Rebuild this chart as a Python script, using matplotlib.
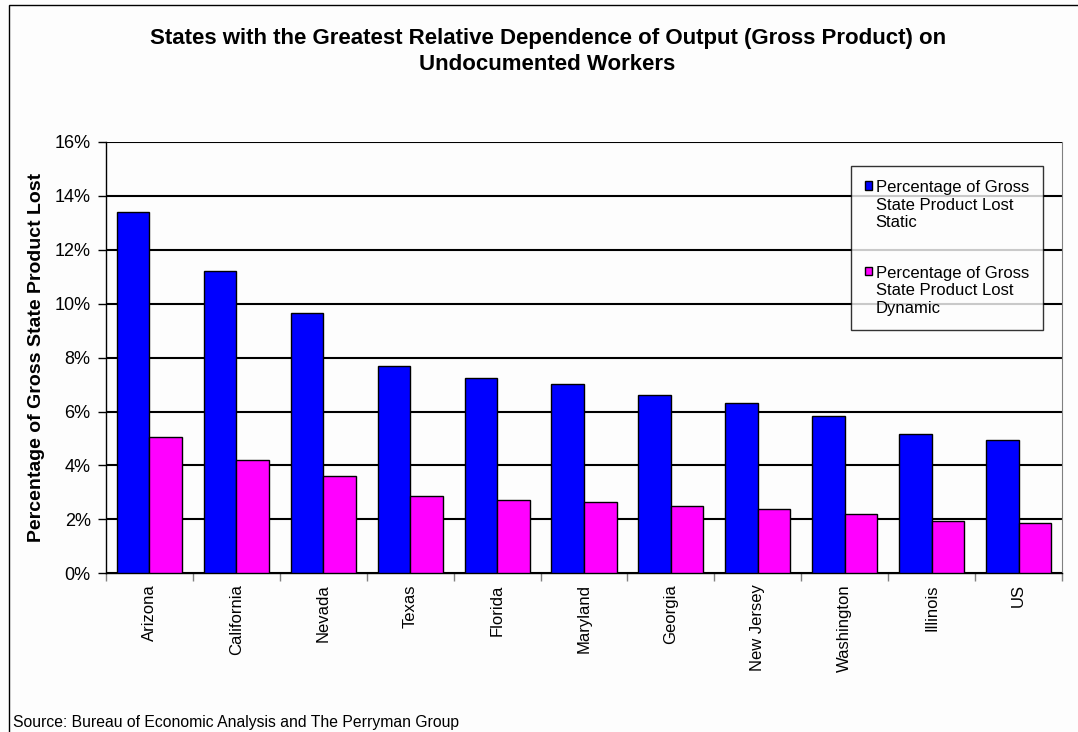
import numpy as np
import matplotlib.pyplot as plt
from matplotlib.patches import Rectangle
from matplotlib.legend_handler import HandlerPatch
from matplotlib.ticker import FuncFormatter, FixedLocator

plt.rcParams['font.family'] = ['Liberation Sans', 'DejaVu Sans']

states = ["Arizona", "California", "Nevada", "Texas", "Florida", "Maryland",
          "Georgia", "New Jersey", "Washington", "Illinois", "US"]
static_pct = [13.40, 11.22, 9.65, 7.68, 7.26, 7.03, 6.63, 6.31, 5.84, 5.15, 4.95]
dynamic_pct = [5.04, 4.22, 3.62, 2.88, 2.73, 2.64, 2.51, 2.37, 2.20, 1.93, 1.86]
label_static = "Percentage of Gross\nState Product Lost\nStatic"
label_dynamic = "Percentage of Gross\nState Product Lost\nDynamic"


class TopSquare(HandlerPatch):
    # legend square sits next to the first text line, like Excel does
    def create_artists(self, legend, orig_handle, xdescent, ydescent,
                       width, height, fontsize, trans):
        shift = fontsize * 1.2
        patch = orig_handle.patches[0]
        p = Rectangle((-xdescent, -ydescent + shift), width, height,
                      facecolor=patch.get_facecolor(), edgecolor="black",
                      linewidth=1, transform=trans)
        return [p]


fig = plt.figure(figsize=(10.78, 7.32), dpi=100)
fig.patch.set_facecolor("#fdfdfd")
ax = fig.add_axes([106 / 1078, 1 - 573.3 / 732, 956 / 1078, 431.3 / 732])
ax.set_facecolor("#fdfdfd")

x = np.arange(len(states))
w = 0.374
b1 = ax.bar(x - w / 2, static_pct, w, color="#0000ff", edgecolor="black", linewidth=1,
            label=label_static, zorder=3)
b2 = ax.bar(x + w / 2, dynamic_pct, w, color="#ff00ff", edgecolor="black", linewidth=1,
            label=label_dynamic, zorder=3)

ax.set_xlim(-0.5, len(states) - 0.5)
ax.set_ylim(0, 16)
ax.set_yticks(np.arange(0, 17, 2))
ax.yaxis.set_major_formatter(FuncFormatter(lambda v, p: f"{v:.0f}%"))
ax.grid(axis="y", color="black", linewidth=1.5, zorder=1)

ax.set_xticks(x)
ax.set_xticklabels(states, rotation=90, fontsize=12)
ax.tick_params(axis="x", length=0, pad=8)
ax.xaxis.set_minor_locator(FixedLocator(np.arange(-0.5, len(states), 1.0)))
ax.tick_params(axis="x", which="minor", length=6, color="#808080", width=1)
ax.tick_params(axis="y", length=6, width=1, labelsize=13, pad=5)

for side in ["left", "bottom"]:
    ax.spines[side].set_color("black")
    ax.spines[side].set_linewidth(1)
ax.spines["right"].set_color("#808080")
ax.spines["top"].set_visible(False)

ax.set_ylabel("Percentage of Gross State Product Lost", fontsize=14, fontweight="bold",
              labelpad=7)

leg = ax.legend(handler_map={b1: TopSquare(), b2: TopSquare()},
                loc="upper left", bbox_to_anchor=(0.779, 0.944), fontsize=12,
                frameon=True, fancybox=False, edgecolor="black", labelspacing=2.15,
                handlelength=0.42, handleheight=0.42, handletextpad=0.22,
                borderpad=0.85, borderaxespad=0)
leg.get_frame().set_linewidth(1)
leg.get_frame().set_facecolor("#fdfdfd")
leg.set_zorder(5)

fig.text(0.508, 1 - 51.5 / 732,
         "States with the Greatest Relative Dependence of Output (Gross Product) on\n"
         "Undocumented Workers", ha="center", va="center", fontsize=16,
         fontweight="bold", linespacing=1.3)
fig.text(13 / 1078, 1 - 722 / 732, "Source: Bureau of Economic Analysis and The Perryman Group",
         ha="left", va="center", fontsize=11.3)

# chart-area border: only left and top edges fall inside the image
fig.patches.append(Rectangle((9 / 1078, -0.1), 1.2, 1.1 - 5 / 732,
                             transform=fig.transFigure, fill=False,
                             edgecolor="black", linewidth=1))

fig.savefig("out.png", dpi=100, facecolor=fig.get_facecolor())
